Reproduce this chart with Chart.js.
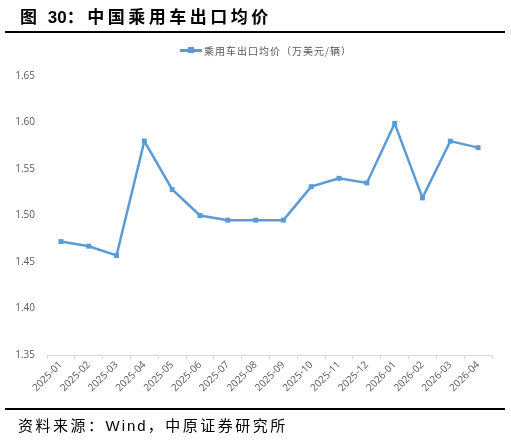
<!DOCTYPE html>
<html>
<head>
<meta charset="utf-8">
<script src="https://cdn.jsdelivr.net/npm/chart.js@4"></script>
<style>
  html, body { margin: 0; padding: 0; background: #fff; }
  body { width: 511px; height: 441px; position: relative; overflow: hidden; }
  #wrap { position: absolute; left: 0; top: 0; width: 511px; height: 441px; }
  #title {
    position: absolute; left: 20px; top: 3px;
    font-family: "Noto Sans CJK SC", sans-serif; font-weight: bold;
    font-size: 17px; letter-spacing: 3.5px; color: #000; white-space: nowrap;
  }
  #title .num { font-family: "Liberation Sans", sans-serif; letter-spacing: 0; }
  .rule { position: absolute; left: 5px; width: 500px; height: 2px; background: #000; }
  #footer {
    position: absolute; left: 18px; top: 414px;
    font-family: "Noto Sans CJK SC", sans-serif; font-size: 15px;
    letter-spacing: 2.5px; color: #000; white-space: nowrap;
  }
  #footer .en { font-family: "Liberation Sans", sans-serif; letter-spacing: 2px; }
  #legend {
    position: absolute; left: 180px; top: 43px; height: 14px; white-space: nowrap;
    font-family: "Noto Sans CJK SC", sans-serif; font-size: 10px; letter-spacing: 1px; color: #595959;
    display: flex; align-items: center;
  }
  #legend .icon { position: relative; width: 22px; height: 8px; margin-right: 2px; }
  #legend .icon::before { content: ''; position: absolute; left: 0; top: 3px; width: 22px; height: 2.5px; background: #5B9BD5; }
  #legend .icon::after { content: ''; position: absolute; left: 8px; top: 1px; width: 6px; height: 6px; background: #5B9BD5; }
</style>
</head>
<body>
<div id="wrap"><canvas id="chart-line"></canvas></div>
<div id="title">图 <span class="num">30</span>：中国乘用车出口均价</div>
<div class="rule" style="top:31px"></div>
<div id="legend"><span class="icon"></span><span id="legend-text"></span></div>
<div class="rule" style="top:408px"></div>
<div id="footer">资料来源：<span class="en">Wind</span>，中原证券研究所</div>
<script>
// categories and values
const months = ['2025-01', '2025-02', '2025-03', '2025-04', '2025-05', '2025-06', '2025-07', '2025-08',
  '2025-09', '2025-10', '2025-11', '2025-12', '2026-01', '2026-02', '2026-03', '2026-04'];
const avgPrice = [1.472, 1.467, 1.457, 1.580, 1.528, 1.500, 1.495, 1.495,
  1.495, 1.531, 1.540, 1.535, 1.599, 1.519, 1.580, 1.573];
const seriesName = '乘用车出口均价（万美元/辆）';
const yMin = 1.35, yMax = 1.65, yStep = 0.05;

const lineColor = '#5B9BD5';
const tickColor = '#595959';

document.getElementById('legend-text').textContent = seriesName;

const ctx1 = document.getElementById('chart-line').getContext('2d');
new Chart(ctx1, {
  type: 'line',
  data: {
    labels: months,
    datasets: [{
      label: seriesName,
      data: avgPrice,
      borderColor: lineColor,
      backgroundColor: lineColor,
      borderWidth: 2.5,
      tension: 0,
      pointStyle: 'rect',
      pointRadius: 3.5,
      pointBorderWidth: 0,
    }],
  },
  options: {
    responsive: true,
    maintainAspectRatio: false,
    animation: false,
    layout: { padding: { left: 0, right: 19, top: 76, bottom: 41 } },
    plugins: {
      tooltip: { enabled: false },
      legend: { display: false },
    },
    scales: {
      y: {
        min: yMin,
        max: yMax,
        afterFit: (s) => { s.width = 47; },
        grid: { display: false },
        border: { display: false },
        ticks: {
          stepSize: yStep,
          color: tickColor,
          padding: 4,
          font: { size: 10, family: 'Open Sans' },
          callback: (v) => Number(v).toFixed(2),
        },
      },
      x: {
        offset: true,
        afterFit: (s) => { s.height = 45; },
        grid: {
          display: true,
          offset: true,
          drawOnChartArea: false,
          drawTicks: true,
          tickLength: 4,
          color: '#d9d9d9',
        },
        border: { display: true, color: '#d9d9d9', width: 1 },
        ticks: {
          color: tickColor,
          maxRotation: 45,
          minRotation: 45,
          autoSkip: false,
          padding: 0,
          font: { size: 10, family: 'Open Sans' },
        },
      },
    },
  },
});
</script>
</body>
</html>
